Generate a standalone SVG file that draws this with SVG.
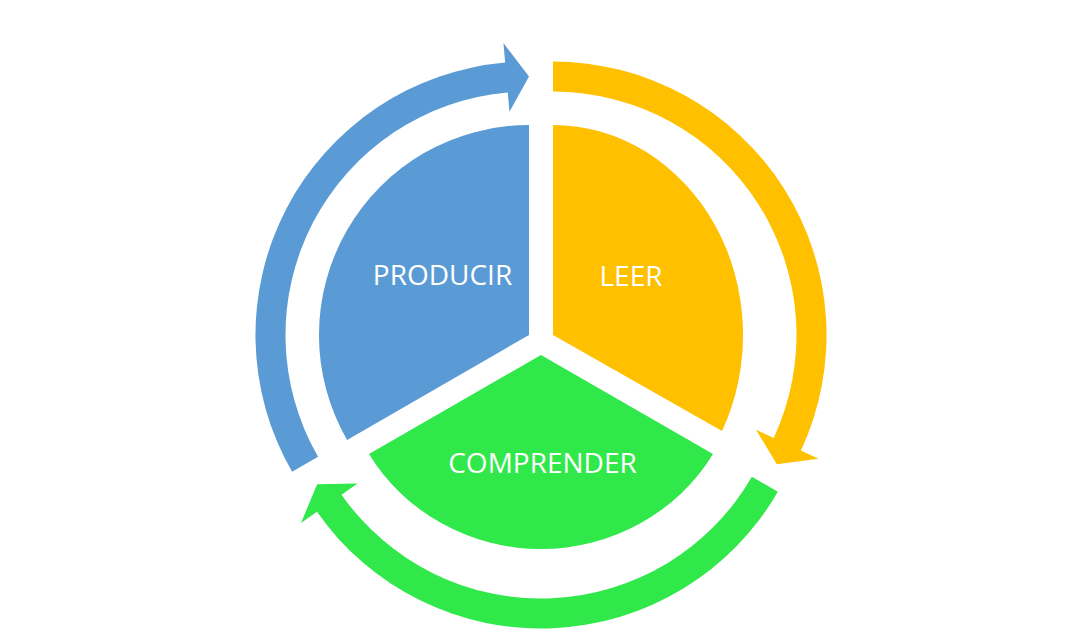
<svg xmlns="http://www.w3.org/2000/svg" width="1088" height="630" viewBox="0 0 1088 630">
<style>
.lbl{font-family:"Open Sans","Noto Sans",sans-serif;font-size:28px;fill:#FFFFFF;text-anchor:middle}
.blue{fill:#5B9BD5}
.yellow{fill:#FFC000}
.green{fill:#31E84A}
</style>
<rect width="1088" height="630" fill="#FFFFFF"/>
<g id="connectors">
<path class="blue" d="M292.1,471.75 A273.5,273.5 0 0 1 505.16,62.54 L503.46,43.12 L529,76.5 L509.48,111.85 L507.78,92.43 A243.5,243.5 0 0 0 318.1,456.75 Z"/>
<path class="yellow" d="M553,61.5 A273.5,273.5 0 0 1 800.88,450.59 L818.55,458.83 L776.87,464.25 L756.01,429.67 L773.68,437.9 A243.5,243.5 0 0 0 553,91.5 Z"/>
<path class="green" d="M777.86,491.75 A273.5,273.5 0 0 1 316.96,511.87 L300.99,523.06 L317.13,484.25 L357.51,483.48 L341.54,494.67 A243.5,243.5 0 0 0 751.88,476.75 Z"/>
</g>
<g id="node-producir">
<path class="blue" d="M529,335 L347.1,440 A210,210 0 0 1 529,125 Z"/>
<text class="lbl" x="442.5" y="285">PRODUCIR</text>
</g>
<g id="node-leer">
<path class="yellow" d="M553,335 L553,125 A190,210 0 0 1 722,431 Z"/>
<text class="lbl" x="631" y="286">LEER</text>
</g>
<g id="node-comprender">
<path class="green" d="M541,355 L713,454 A200,194 0 0 1 369,454 Z"/>
<text class="lbl" x="542.5" y="473">COMPRENDER</text>
</g>
</svg>
